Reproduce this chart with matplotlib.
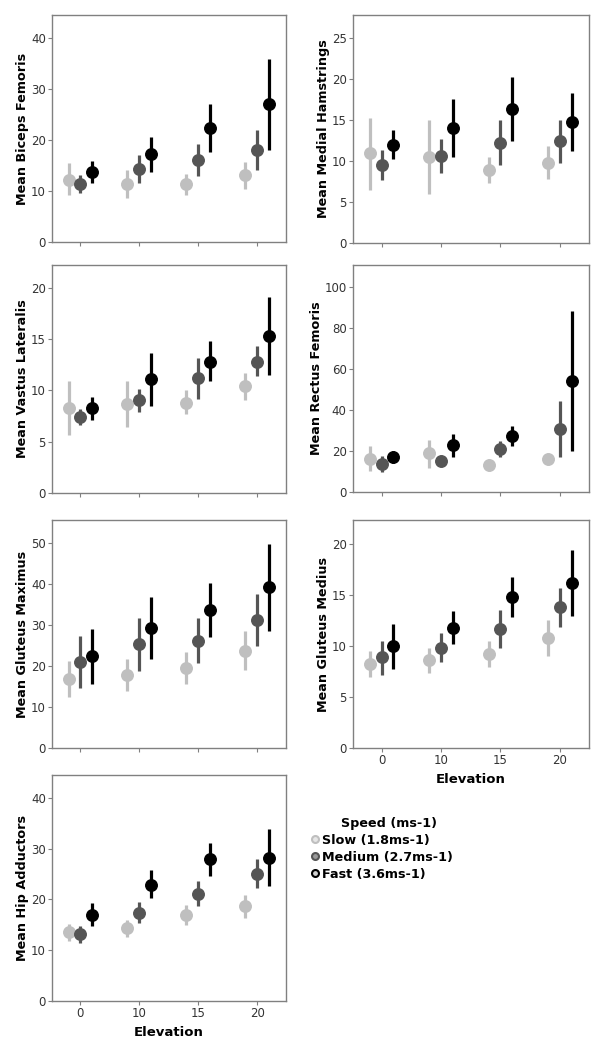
import numpy as np
import matplotlib.pyplot as plt
from matplotlib.lines import Line2D

# categories
elevations = ['0', '10', '15', '20']
speeds = ['Slow (1.8ms-1)', 'Medium (2.7ms-1)', 'Fast (3.6ms-1)']

# means / lower / upper error bar ends, rows = slow, medium, fast
biceps_mean = [[12.2, 11.4, 11.4, 13.1], [11.4, 14.4, 16.0, 18.1], [13.7, 17.2, 22.4, 27.0]]
biceps_lo = [[9.2, 8.6, 9.2, 10.3], [9.6, 11.6, 12.9, 14.2], [11.6, 13.7, 17.6, 18.1]]
biceps_hi = [[15.4, 14.2, 13.4, 15.7], [13.1, 17.1, 19.3, 22.0], [15.9, 20.5, 27.1, 35.9]]

hams_mean = [[11.0, 10.5, 8.9, 9.8], [9.55, 10.6, 12.2, 12.4], [12.0, 14.0, 16.3, 14.8]]
hams_lo = [[6.5, 6.0, 7.3, 7.8], [7.7, 8.5, 9.5, 9.8], [10.2, 10.5, 12.4, 11.2]]
hams_hi = [[15.3, 15.0, 10.5, 11.8], [11.4, 12.7, 15.0, 15.0], [13.8, 17.6, 20.3, 18.3]]

vastus_mean = [[8.3, 8.7, 8.8, 10.4], [7.4, 9.1, 11.2, 12.8], [8.25, 11.1, 12.8, 15.3]]
vastus_lo = [[5.6, 6.4, 7.7, 9.1], [6.6, 7.9, 9.2, 11.35], [7.1, 8.5, 10.9, 11.5]]
vastus_hi = [[10.9, 10.9, 10.0, 11.65], [8.15, 10.15, 13.1, 14.3], [9.3, 13.6, 14.8, 19.1]]

rectus_mean = [[16.3, 18.8, 13.1, 16.3], [13.5, 15.2, 21.2, 30.7], [17.0, 22.8, 27.4, 54.3]]
rectus_lo = [[10.3, 11.9, 12.2, 14.2], [9.8, 14.3, 17.1, 17.1], [13.9, 17.1, 22.5, 20.1]]
rectus_hi = [[22.3, 25.6, 14.0, 18.4], [17.5, 16.1, 25.0, 44.4], [19.9, 28.1, 32.3, 88.4]]

gmax_mean = [[16.9, 17.8, 19.4, 23.7], [21.0, 25.3, 26.2, 31.2], [22.4, 29.2, 33.7, 39.2]]
gmax_lo = [[12.4, 13.9, 15.6, 19.0], [14.7, 18.8, 20.8, 24.9], [15.7, 21.6, 27.0, 28.5]]
gmax_hi = [[21.2, 21.7, 23.3, 28.5], [27.3, 31.7, 31.7, 37.5], [28.9, 36.8, 40.2, 49.8]]

gmed_mean = [[8.2, 8.65, 9.2, 10.8], [8.9, 9.85, 11.7, 13.8], [9.95, 11.8, 14.85, 16.15]]
gmed_lo = [[6.95, 7.4, 7.9, 9.0], [7.2, 8.4, 9.8, 11.9], [7.75, 10.2, 12.8, 12.9]]
gmed_hi = [[9.5, 9.85, 10.45, 12.5], [10.5, 11.25, 13.5, 15.65], [12.2, 13.4, 16.8, 19.4]]

hip_mean = [[13.6, 14.4, 17.0, 18.65], [13.1, 17.4, 21.15, 25.1], [16.9, 22.9, 27.9, 28.2]]
hip_lo = [[11.8, 12.6, 15.0, 16.4], [11.5, 15.4, 18.7, 22.3], [14.8, 20.2, 24.6, 22.7]]
hip_hi = [[15.2, 16.0, 18.85, 20.8], [14.8, 19.4, 23.65, 27.9], [19.2, 25.75, 31.1, 33.8]]

colours = ['#bfbfbf', '#555555', '#000000']
face_legend = ['#e6e6e6', '#9a9a9a', '#d0d0d0']
offsets = [-0.2, 0.0, 0.2]

W, H = 600, 1050
fig = plt.figure(figsize=(6, 10.5), dpi=100)


def px_axes(left, top, right, bottom):
    """axes from pixel box (origin top left)"""
    return fig.add_axes([left / W, 1 - bottom / H, (right - left) / W, (bottom - top) / H])


def draw_panel(ax, means, lows, highs, ylab, ymax, yticks, show_x):
    x = np.arange(len(elevations))
    for i in range(3):
        xs = x + offsets[i]
        ax.vlines(xs, lows[i], highs[i], color=colours[i], lw=2.3, zorder=2)
        ax.plot(xs, means[i], 'o', color=colours[i], ms=8.3, mec=colours[i], zorder=3)
    ax.set_xlim(-0.48, 3.49)
    ax.set_ylim(0, ymax)
    ax.set_yticks(yticks)
    ax.set_xticks(x)
    for sp in ax.spines.values():
        sp.set_color('#808080')
        sp.set_linewidth(1.0)
    ax.tick_params(direction='out', length=3, width=0.8, color='#808080',
                   labelcolor='#333333', labelsize=8.5, pad=1.5)
    ax.set_ylabel(ylab, fontsize=9.2, fontweight='bold', labelpad=1)
    if show_x:
        ax.set_xticklabels(elevations)
        ax.set_xlabel('Elevation', fontsize=9.5, fontweight='bold', labelpad=4)
    else:
        ax.set_xticklabels([])


ax1 = px_axes(52, 15, 286, 242)
draw_panel(ax1, biceps_mean, biceps_lo, biceps_hi, 'Mean Biceps Femoris', 44.5, [0, 10, 20, 30, 40], False)
ax2 = px_axes(353, 15, 589, 243)
draw_panel(ax2, hams_mean, hams_lo, hams_hi, 'Mean Medial Hamstrings', 27.8, [0, 5, 10, 15, 20, 25], False)
ax3 = px_axes(52, 265, 286, 493)
draw_panel(ax3, vastus_mean, vastus_lo, vastus_hi, 'Mean Vastus Lateralis', 22.2, [0, 5, 10, 15, 20], False)
ax4 = px_axes(353, 265, 589, 492)
draw_panel(ax4, rectus_mean, rectus_lo, rectus_hi, 'Mean Rectus Femoris', 110.7, [0, 20, 40, 60, 80, 100], False)
ax5 = px_axes(52, 520, 286, 748)
draw_panel(ax5, gmax_mean, gmax_lo, gmax_hi, 'Mean Gluteus Maximus', 55.6, [0, 10, 20, 30, 40, 50], False)
ax6 = px_axes(353, 520, 589, 748)
draw_panel(ax6, gmed_mean, gmed_lo, gmed_hi, 'Mean Gluteus Medius', 22.35, [0, 5, 10, 15, 20], True)
ax7 = px_axes(52, 775, 286, 1001)
draw_panel(ax7, hip_mean, hip_lo, hip_hi, 'Mean Hip Adductors', 44.5, [0, 10, 20, 30, 40], True)

# legend
handles = [Line2D([], [], ls='none', marker='o', ms=5, color=colours[i],
                  mfc=face_legend[i], mew=1.5) for i in range(3)]
leg = fig.legend(handles, speeds, title='Speed (ms-1)', loc='upper left',
                 bbox_to_anchor=(303 / W, 1 - 812 / H), frameon=False,
                 prop={'weight': 'bold', 'size': 9.2}, handletextpad=0.1,
                 handlelength=1.0, labelspacing=0.3, borderaxespad=0)
leg.get_title().set_fontweight('bold')
leg.get_title().set_fontsize(9.2)
leg.get_title().set_position((8, 0))

fig.savefig('out.png', dpi=100)
